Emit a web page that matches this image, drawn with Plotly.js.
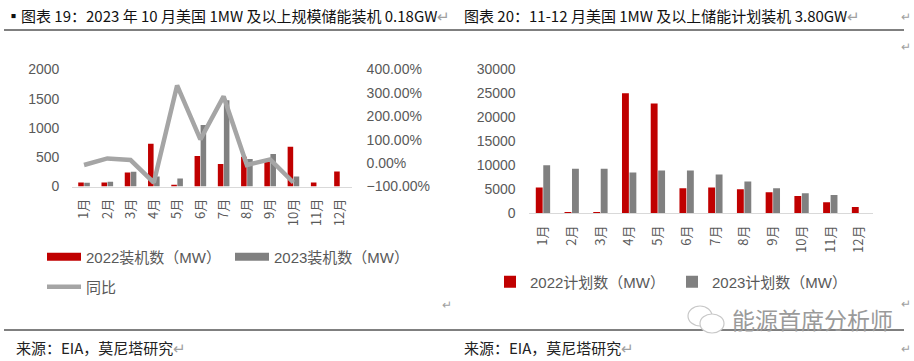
<!DOCTYPE html>
<html>
<head>
<meta charset="utf-8">
<script src="https://cdn.plot.ly/plotly-3.0.1.min.js"></script>
<style>
html,body{margin:0;padding:0;background:#fff;}
#chart{width:914px;height:361px;}
</style>
</head>
<body>
<div id="chart"></div>
<script>
// ---- data ----
var months = ["1月","2月","3月","4月","5月","6月","7月","8月","9月","10月","11月","12月"];
var install2022 = [70, 70, 240, 730, 30, 520, 385, 510, 420, 680, 70, 255];
var install2023 = [65, 80, 250, 170, 135, 1050, 1475, 470, 555, 170, null, null];
var yoyPct = [-8, 20, 13, -83, 332, 101, 285, -8, 16, -83];
var plan2022 = [5400, 250, 250, 25000, 22900, 5200, 5400, 5000, 4400, 3600, 2300, 1300];
var plan2023 = [10000, 9300, 9300, 8500, 8900, 8900, 8100, 6600, 5200, 4200, 3800, null];

var leftTitle = "▪图表 19：2023 年 10 月美国 1MW 及以上规模储能装机 0.18GW";
var rightTitle = "图表 20：11-12 月美国 1MW 及以上储能计划装机 3.80GW";
var sourceText = "来源：EIA，莫尼塔研究";
var watermark = "能源首席分析师";

var RED = "#c00000", GRAY = "#808080", LINE = "#a5a5a5", TXT = "#595959";
var W = 914, H = 361;
function px(x){return x/W;}
function py(y){return 1 - y/H;}
var NUMF = "Liberation Sans, Arial, Noto Sans CJK SC, sans-serif";
var CJKF = "Noto Sans CJK SC, sans-serif";

var traces = [
  {type:"bar", x:months, y:install2022, xaxis:"x", yaxis:"y", marker:{color:RED}, name:"2022装机数（MW）", showlegend:false, legendgroup:"a", hoverinfo:"skip"},
  {type:"bar", x:months, y:install2023, xaxis:"x", yaxis:"y", marker:{color:GRAY}, name:"2023装机数（MW）", showlegend:false, legendgroup:"b", hoverinfo:"skip"},
  {type:"scatter", mode:"lines", x:months.slice(0, yoyPct.length), y:yoyPct, xaxis:"x", yaxis:"y2", line:{color:LINE, width:4.5}, name:"同比", legend:"legend2", hoverinfo:"skip"},
  // legend proxies (wide rectangles like the source)
  {type:"scatter", mode:"lines", x:[null], y:[null], xaxis:"x", yaxis:"y", line:{color:RED, width:8}, name:"2022装机数（MW）", legendgroup:"a", legend:"legend"},
  {type:"scatter", mode:"lines", x:[null], y:[null], xaxis:"x", yaxis:"y", line:{color:GRAY, width:8}, name:"2023装机数（MW）", legendgroup:"b", legend:"legend"},
  {type:"bar", x:months, y:plan2022, xaxis:"x2", yaxis:"y3", marker:{color:RED}, name:"2022计划数（MW）", legend:"legend3", hoverinfo:"skip"},
  {type:"bar", x:months, y:plan2023, xaxis:"x2", yaxis:"y3", marker:{color:GRAY}, name:"2023计划数（MW）", legend:"legend3", hoverinfo:"skip"}
];

var catAxis = {
  type:"category", showgrid:false, zeroline:false, showline:true, linecolor:"#d9d9d9", linewidth:1,
  ticks:"", tickangle:-90, tickfont:{family:CJKF, size:13, color:TXT}, ticklabelstandoff:6, fixedrange:true
};
var valAxis = {
  showgrid:false, zeroline:false, showline:false, ticks:"",
  tickfont:{family:NUMF, size:14, color:TXT}, ticklabelstandoff:12, fixedrange:true
};

var layout = {
  width:W, height:H, margin:{l:0,r:0,t:0,b:0},
  paper_bgcolor:"#fff", plot_bgcolor:"#fff",
  barmode:"group", bargap:0.48, bargroupgap:0.08,
  showlegend:true,
  xaxis: Object.assign({}, catAxis, {domain:[px(72.4), px(351.6)], anchor:"y"}),
  yaxis: Object.assign({}, valAxis, {domain:[py(186.5), py(69.5)], range:[0,2000], dtick:500, tickformat:"d", anchor:"x"}),
  yaxis2: Object.assign({}, valAxis, {overlaying:"y", side:"right", anchor:"x", range:[-100,400], dtick:100, tickformat:".2f", ticksuffix:"%", ticklabelstandoff:14}),
  xaxis2: Object.assign({}, catAxis, {domain:[px(528.6), px(873.4)], anchor:"y3"}),
  yaxis3: Object.assign({}, valAxis, {domain:[py(213.3), py(69.3)], range:[0,30000], dtick:5000, tickformat:"d", anchor:"x2"}),
  legend: {orientation:"h", x:px(42), xanchor:"left", y:py(257), yanchor:"middle", font:{family:NUMF, size:15, color:TXT}, itemwidth:34, entrywidth:139, bgcolor:"rgba(0,0,0,0)"},
  legend2: {orientation:"h", x:px(42), xanchor:"left", y:py(287), yanchor:"middle", font:{family:NUMF, size:15, color:TXT}, itemwidth:34, bgcolor:"rgba(0,0,0,0)"},
  legend3: {orientation:"h", x:px(490), xanchor:"left", y:py(282), yanchor:"middle", font:{family:NUMF, size:15, color:TXT}, entrywidth:137, bgcolor:"rgba(0,0,0,0)"},
  shapes: [
    {type:"line", xref:"paper", yref:"paper", x0:px(4), x1:px(904), y0:py(30), y1:py(30), line:{color:"#000", width:1}},
    {type:"line", xref:"paper", yref:"paper", x0:px(4), x1:px(904), y0:py(330), y1:py(330), line:{color:"#000", width:1}},
    // wechat icon (watermark)
    {type:"circle", xref:"paper", yref:"paper", x0:px(688), x1:px(712), y0:py(326), y1:py(306), line:{color:"#c8c8c8", width:1.2}},
    {type:"circle", xref:"paper", yref:"paper", x0:px(700), x1:px(724), y0:py(333), y1:py(314), line:{color:"#c8c8c8", width:1.2}, fillcolor:"#fff"}
  ],
  annotations: [
    {xref:"paper", yref:"paper", x:px(4), y:py(15), xanchor:"left", yanchor:"middle", showarrow:false,
     text:leftTitle + "<span style='color:#a0a0a0'>↵</span>", font:{family:CJKF, size:15, color:"#111"}},
    {xref:"paper", yref:"paper", x:px(462), y:py(15), xanchor:"left", yanchor:"middle", showarrow:false,
     text:rightTitle + "<span style='color:#a0a0a0'>↵</span>", font:{family:CJKF, size:15, color:"#111"}},
    {xref:"paper", yref:"paper", x:px(14), y:py(347), xanchor:"left", yanchor:"middle", showarrow:false,
     text:sourceText + "<span style='color:#a0a0a0'>↵</span>", font:{family:CJKF, size:15, color:"#222"}},
    {xref:"paper", yref:"paper", x:px(462), y:py(347), xanchor:"left", yanchor:"middle", showarrow:false,
     text:sourceText + "<span style='color:#a0a0a0'>↵</span>", font:{family:CJKF, size:15, color:"#222"}},
    {xref:"paper", yref:"paper", x:px(730), y:py(319), xanchor:"left", yanchor:"middle", showarrow:false,
     text:watermark, font:{family:CJKF, size:23, color:"#9a9a9a"}},
    {xref:"paper", yref:"paper", x:px(447), y:py(303), xanchor:"center", yanchor:"middle", showarrow:false, text:"↵", font:{family:CJKF, size:12, color:"#a0a0a0"}},
    {xref:"paper", yref:"paper", x:px(906), y:py(15), xanchor:"center", yanchor:"middle", showarrow:false, text:"↵", font:{family:CJKF, size:12, color:"#a0a0a0"}},
    {xref:"paper", yref:"paper", x:px(906), y:py(45), xanchor:"center", yanchor:"middle", showarrow:false, text:"↵", font:{family:CJKF, size:12, color:"#a0a0a0"}},
    {xref:"paper", yref:"paper", x:px(906), y:py(302), xanchor:"center", yanchor:"middle", showarrow:false, text:"↵", font:{family:CJKF, size:12, color:"#a0a0a0"}},
    {xref:"paper", yref:"paper", x:px(906), y:py(347), xanchor:"center", yanchor:"middle", showarrow:false, text:"↵", font:{family:CJKF, size:12, color:"#a0a0a0"}}
  ]
};

Plotly.newPlot("chart", traces, layout, {staticPlot:true, displayModeBar:false});
</script>
</body>
</html>
